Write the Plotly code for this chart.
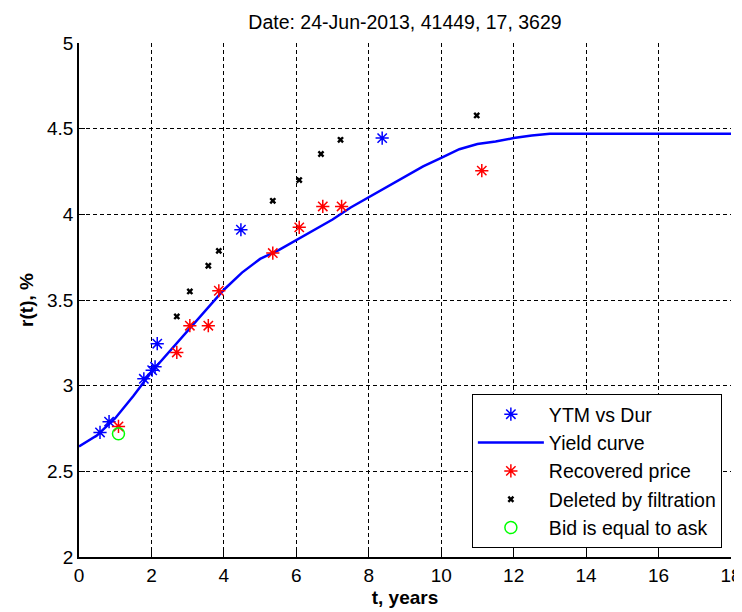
import plotly.graph_objects as go

# ---- data ----
ytm_t = [0.58, 0.83, 1.79, 2.02, 2.10, 2.16, 4.47, 8.37]
ytm_r = [2.727, 2.79, 3.04, 3.09, 3.11, 3.245, 3.91, 4.445]

curve_t = [0, 0.5, 1.0, 1.5, 2.0, 2.5, 3.0, 3.5, 4.0, 4.5, 5.0, 5.5, 6.0, 6.5, 7.0,
           7.5, 8.0, 8.5, 9.0, 9.5, 10.0, 10.5, 11.0, 11.5, 12.0, 12.5, 13.0, 14.0,
           15.0, 16.0, 17.0, 18.0]
curve_r = [2.645, 2.71, 2.81, 2.94, 3.08, 3.20, 3.32, 3.44, 3.56, 3.66, 3.74, 3.79,
           3.85, 3.91, 3.97, 4.04, 4.10, 4.16, 4.22, 4.28, 4.33, 4.38, 4.41, 4.425,
           4.445, 4.46, 4.47, 4.47, 4.47, 4.47, 4.47, 4.47]

rec_t = [1.09, 2.70, 3.06, 3.57, 3.86, 5.35, 6.08, 6.73, 7.25, 11.12]
rec_r = [2.762, 3.194, 3.35, 3.35, 3.554, 3.774, 3.924, 4.046, 4.046, 4.255]

del_t = [2.70, 3.06, 3.57, 3.86, 5.35, 6.08, 6.68, 7.22, 10.98]
del_r = [3.404, 3.55, 3.70, 3.787, 4.079, 4.20, 4.352, 4.435, 4.577]

bid_t = [1.09]
bid_r = [2.719]

x_ticks = [0, 2, 4, 6, 8, 10, 12, 14, 16, 18]
y_ticks = [2, 2.5, 3, 3.5, 4, 4.5, 5]

FONT = "Liberation Sans, Arial, sans-serif"
FS = 19

fig = go.Figure()
fig.add_trace(go.Scatter(x=ytm_t, y=ytm_r, mode="markers", name="YTM vs Dur",
                         marker=dict(symbol="asterisk-open", size=11, color="#0000FF",
                                     line=dict(color="#0000FF", width=1.5))))
fig.add_trace(go.Scatter(x=curve_t, y=curve_r, mode="lines", name="Yield curve",
                         line=dict(color="#0000FF", width=2.5)))
fig.add_trace(go.Scatter(x=rec_t, y=rec_r, mode="markers", name="Recovered price",
                         marker=dict(symbol="asterisk-open", size=11, color="#FF0000",
                                     line=dict(color="#FF0000", width=1.5))))
fig.add_trace(go.Scatter(x=del_t, y=del_r, mode="markers", name="Deleted by filtration",
                         marker=dict(symbol="x", size=6, color="black",
                                     line=dict(width=0))))
fig.add_trace(go.Scatter(x=bid_t, y=bid_r, mode="markers", name="Bid is equal to ask",
                         marker=dict(symbol="circle-open", size=12, color="#00FF00",
                                     line=dict(color="#00FF00", width=1.5))))

axis_common = dict(
    showline=True, linecolor="black", linewidth=1.5,
    ticks="inside", ticklen=6, tickcolor="black", tickwidth=1,
    showgrid=True, gridcolor="black", gridwidth=1, griddash="4px,3px",
    zeroline=False, automargin=False,
    tickfont=dict(family=FONT, size=FS, color="black"),
)

# the page body has an 8px default margin, so the figure is 8px smaller
fig.update_layout(
    width=734, height=604,
    margin=dict(l=71, r=11, t=35, b=55),
    paper_bgcolor="white", plot_bgcolor="white",
    font=dict(family=FONT, size=FS, color="black"),
    title=dict(text="Date: 24-Jun-2013, 41449, 17, 3629",
               x=0.5, xref="paper", xanchor="center",
               y=1 - 14 / 604, yref="container", yanchor="middle",
               font=dict(family=FONT, size=19.5, color="black")),
    xaxis=dict(range=[0, 18], tickvals=x_ticks,
               title=dict(text="<b>t, years</b>", standoff=6,
                          font=dict(family=FONT, size=FS, color="black")),
               **axis_common),
    yaxis=dict(range=[2, 5], tickvals=y_ticks,
               title=dict(text="<b>r(t), %</b>", standoff=8,
                          font=dict(family=FONT, size=FS, color="black")),
               **axis_common),
    showlegend=True,
    legend=dict(x=0.986, xanchor="right", y=0.0175, yanchor="bottom",
                bgcolor="white", bordercolor="black", borderwidth=1,
                font=dict(family=FONT, size=19.5, color="black"),
                itemwidth=66, tracegroupgap=0),
)

fig.write_html("out.html")
